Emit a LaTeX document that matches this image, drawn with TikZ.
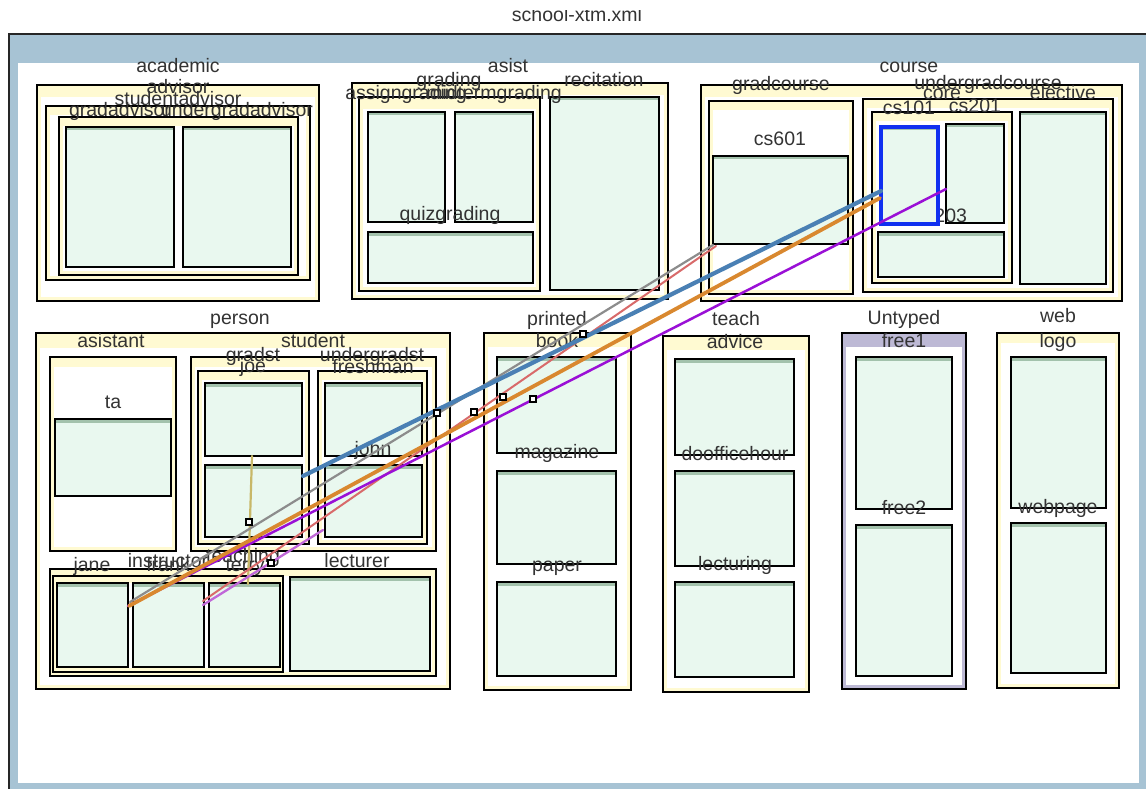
\documentclass[tikz,border=0pt]{standalone}
\usepackage{fontspec}
\setmainfont{Liberation Sans}
\definecolor{band}{HTML}{A7C3D4}
\definecolor{yel}{HTML}{FFFAD2}
\definecolor{leafc}{HTML}{E9F8EF}
\definecolor{leaftop}{HTML}{A3C2AC}
\definecolor{lav}{HTML}{BDB9D5}
\definecolor{selblue}{HTML}{1030F0}
\definecolor{txt}{HTML}{333333}
\definecolor{cgray}{HTML}{8C8C8C}
\definecolor{cred}{HTML}{D86A6A}
\definecolor{cblue}{HTML}{4A80B4}
\definecolor{corange}{HTML}{D9882F}
\definecolor{cpurple}{HTML}{9A10D6}
\definecolor{corchid}{HTML}{C068D8}
\definecolor{colive}{HTML}{C8B868}
\newcommand\bx[7][]{\node[#3,#1,minimum width={#6-#4},minimum height={#7-#5}] (#2) at (#4,#5) {};}
\begin{document}
\begin{tikzpicture}[x=1pt,y=-1pt,
  hdr/.store in=\hdr, hdr=12pt,
  ct/.style={draw=black, line width=1.5pt, fill=yel, anchor=north west, inner sep=0pt, outer sep=0pt,
    path picture={\fill[white] ([xshift=4pt,yshift=-\hdr]path picture bounding box.north west) rectangle ([xshift=-4pt,yshift=4pt]path picture bounding box.south east);}},
  ctu/.style={ct, fill=lav},
  lf/.style={draw=black, line width=1.8pt, fill=leafc, anchor=north west, inner sep=0pt, outer sep=0pt,
    path picture={\fill[leaftop] (path picture bounding box.north west) rectangle ([yshift=-3.5pt]path picture bounding box.north east);}},
  sel/.style={lf, draw=selblue, line width=3.2pt},
  lbl/.style={font=\fontsize{19.5}{20}\selectfont, text=txt, anchor=base, inner sep=0pt},
  hdl/.style={draw=black, line width=1.1pt, fill=white, minimum size=6pt, inner sep=0pt},
  conn/.style={line cap=round}
]
\useasboundingbox (0,0) rectangle (1146,789);
% frame
\fill[band] (9,34) rectangle (1146,789);
\draw[line width=2.8pt, black!85] (9,789) -- (9,34) -- (1146,34);
\fill[white] (18,63) rectangle (1139,783);
\begin{scope}
\clip (0,11) rectangle (1146,33);
\node[lbl] (title) at (577,22) {school-xtm.xml};
\end{scope}
% academic advisor
\bx{academic}{ct}{37}{85}{319}{301}
\bx[hdr=9pt]{advisor}{ct}{46}{106}{310}{280}
\bx[hdr=9pt]{studentadvisor}{ct}{59}{117}{298}{275}
\bx{gradadvisor}{lf}{66}{127}{174}{267}
\bx{undergradadvisor}{lf}{183}{127}{291}{267}
% asist
\bx{asist}{ct}{352}{83}{668}{299}
\bx{grading}{ct}{359}{97}{540}{291}
\bx{assigngrading}{lf}{368}{112}{445}{222}
\bx{midtermgrading}{lf}{455}{112}{533}{222}
\bx{quizgrading}{lf}{368}{232}{533}{283}
\bx{recitation}{lf}{550}{97}{659}{290}
% course
\bx{course}{ct}{701}{85}{1122}{301}
\bx[hdr=9pt]{gradcourse}{ct}{709}{101}{853}{294}
\bx{cs601}{lf}{713}{156}{848}{244}
\bx[hdr=9pt]{undergradcourse}{ct}{863}{99}{1113}{292}
\bx[hdr=9pt]{core}{ct}{872}{112}{1012}{283}
\bx{cs201}{lf}{946}{124}{1004}{223}
\bx{cs203}{lf}{878}{232}{1004}{277}
\bx{elective}{lf}{1020}{112}{1106}{284}
% person
\bx[hdr=15pt]{person}{ct}{36}{333}{450}{689}
\bx[hdr=10pt]{asistant}{ct}{50}{357}{176}{551}
\bx{ta}{lf}{55}{419}{171}{496}
\bx[hdr=10pt]{student}{ct}{191}{357}{436}{551}
\bx[hdr=9pt]{gradst}{ct}{198}{371}{309}{544}
\bx{joe}{lf}{205}{383}{302}{456}
\bx{gradst2}{lf}{205}{465}{302}{537}
\bx[hdr=9pt]{undergradst}{ct}{318}{371}{427}{544}
\bx{freshman}{lf}{325}{383}{422}{456}
\bx{john}{lf}{325}{465}{422}{537}
\bx[hdr=7pt]{faculty}{ct}{50}{569}{436}{676}
\bx[hdr=7pt]{instructor}{ct}{53}{576}{283}{672}
\bx{jane}{lf}{57}{583}{128}{667}
\bx{frank}{lf}{133}{583}{204}{667}
\bx{terry}{lf}{209}{583}{280}{667}
\bx{lecturer}{lf}{290}{577}{430}{671}
% printed
\bx[hdr=14pt]{printed}{ct}{484}{333}{631}{690}
\bx{book}{lf}{497}{357}{616}{453}
\bx{magazine}{lf}{497}{471}{616}{564}
\bx{paper}{lf}{497}{582}{616}{676}
% teach
\bx[hdr=14pt]{teach}{ct}{663}{336}{809}{692}
\bx{advice}{lf}{675}{359}{794}{455}
\bx{doofficehour}{lf}{675}{471}{794}{566}
\bx{lecturing}{lf}{675}{582}{794}{677}
% untyped
\bx[hdr=14pt]{untyped}{ctu}{842}{333}{966}{689}
\bx{free1}{lf}{856}{357}{952}{509}
\bx{free2}{lf}{856}{525}{952}{676}
% web
\bx[hdr=10pt]{web}{ct}{997}{333}{1119}{688}
\bx{logo}{lf}{1011}{357}{1106}{508}
\bx{webpage}{lf}{1011}{523}{1106}{673}
% labels
\node[lbl] (l-academic) at (178,73) {academic};
\node[lbl] (l-advisor) at (178,94) {advisor};
\node[lbl] (l-studentadvisor) at (178,106) {studentadvisor};
\node[lbl] (l-gradadvisor) at (120,117) {gradadvisor};
\node[lbl] (l-undergradadvisor) at (237,117) {undergradadvisor};
\node[lbl] (l-asist) at (508,73) {asist};
\node[lbl] (l-grading) at (449,87) {grading};
\node[lbl] (l-assigngrading) at (406,100) {assigngrading};
\node[lbl] (l-midtermgrading) at (494,100) {midtermgrading};
\node[lbl] (l-recitation) at (604,87) {recitation};
\node[lbl] (l-quizgrading) at (450,220) {quizgrading};
\node[lbl] (l-course) at (909,73) {course};
\node[lbl] (l-gradcourse) at (781,91) {gradcourse};
\node[lbl] (l-undergradcourse) at (988,90) {undergradcourse};
\node[lbl] (l-core) at (942,100) {core};
\node[lbl] (l-elective) at (1063,100) {elective};
\node[lbl] (l-cs601) at (780,146) {cs601};
\node[lbl] (l-cs101) at (909,115) {cs101};
\node[lbl] (l-cs201) at (975,113) {cs201};
\node[lbl] (l-cs203) at (941,222) {cs203};
\bx{cs101}{sel}{881}{127}{938}{224}
\node[lbl] (l-person) at (240,324) {person};
\node[lbl] (l-asistant) at (111,347) {asistant};
\node[lbl] (l-student) at (313,347) {student};
\node[lbl] (l-ta) at (113,408) {ta};
\node[lbl] (l-gradst) at (253,361) {gradst};
\node[lbl] (l-joe) at (253,372) {joe};
\node[lbl] (l-undergradst) at (372,361) {undergradst};
\node[lbl] (l-freshman) at (373,373) {freshman};
\node[lbl] (l-john) at (373,455) {john};
\node[lbl] (l-faculty) at (243,562) {teaching};
\node[lbl] (l-instructor) at (168,567) {instructor};
\node[lbl] (l-jane) at (92,571) {jane};
\node[lbl] (l-frank) at (168,571) {frank};
\node[lbl] (l-terry) at (245,571) {terry};
\node[lbl] (l-lecturer) at (357,567) {lecturer};
\node[lbl] (l-printed) at (557,325) {printed};
\node[lbl] (l-book) at (557,347) {book};
\node[lbl] (l-magazine) at (557,458) {magazine};
\node[lbl] (l-paper) at (557,571) {paper};
\node[lbl] (l-teach) at (736,325) {teach};
\node[lbl] (l-advice) at (735,348) {advice};
\node[lbl] (l-doofficehour) at (735,460) {doofficehour};
\node[lbl] (l-lecturing) at (735,570) {lecturing};
\node[lbl] (l-untyped) at (904,324) {Untyped};
\node[lbl] (l-free1) at (904,347) {free1};
\node[lbl] (l-free2) at (904,514) {free2};
\node[lbl] (l-web) at (1058,322) {web};
\node[lbl] (l-logo) at (1058,347) {logo};
\node[lbl] (l-webpage) at (1058,513) {webpage};
% connector end points
\coordinate (g1) at (713,245);
\coordinate (g2) at (130,602);
\coordinate (r1) at (716,246);
\coordinate (r2) at (203,601);
\coordinate (b1) at (881,191);
\coordinate (b2) at (303,476);
\coordinate (o1) at (880,198);
\coordinate (o2) at (129,606);
\coordinate (p1) at (946,189);
\coordinate (p2) at (128,606);
\coordinate (v1) at (323,530);
\coordinate (v2) at (203,605);
\coordinate (y1) at (252,456);
\coordinate (y2) at (248,584);
\draw[conn, colive, line width=2.2pt] (y1) -- (y2);
\draw[conn, cgray, line width=2.2pt] (g1) -- (g2);
\draw[conn, cred, line width=2pt] (r1) -- (r2);
\draw[conn, corchid, line width=2.3pt] (v1) -- (v2);
\draw[conn, cpurple, line width=2.5pt] (p1) -- (p2);
\draw[conn, corange, line width=3.8pt] (o1) -- (o2);
\draw[conn, cblue, line width=4.2pt] (b1) -- (b2);
% bend handles
\node[hdl] (h1) at (583,334) {};
\node[hdl] (h2) at (437,413) {};
\node[hdl] (h3) at (474,412) {};
\node[hdl] (h4) at (503,397) {};
\node[hdl] (h5) at (533,399) {};
\node[hdl] (h6) at (249,522) {};
\node[hdl] (h7) at (271,563) {};
\end{tikzpicture}
\end{document}
